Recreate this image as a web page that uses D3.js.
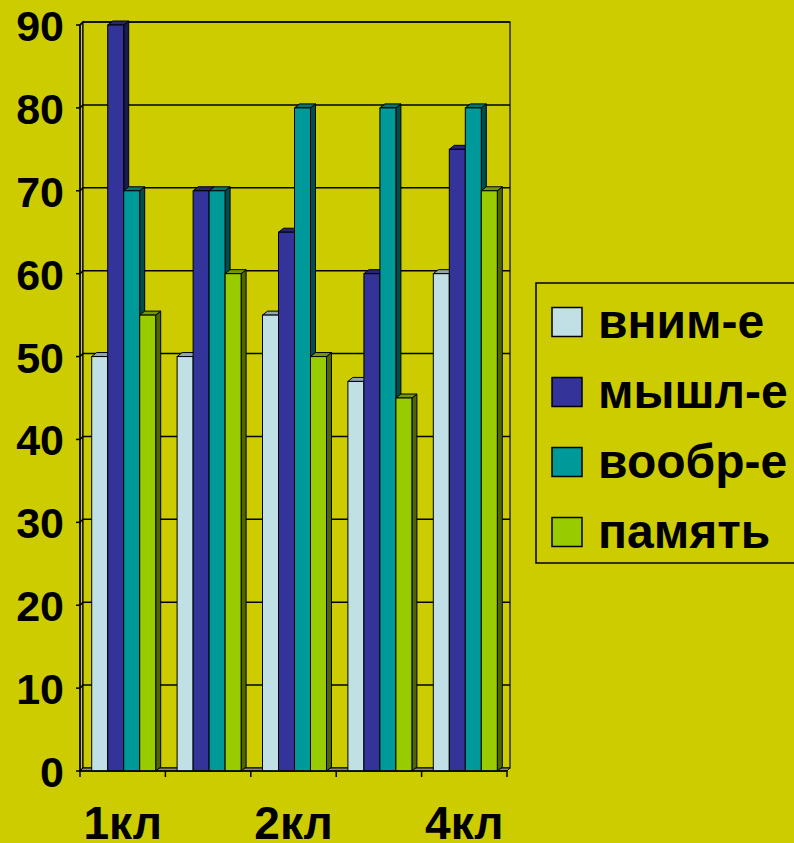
<!DOCTYPE html>
<html><head><meta charset="utf-8">
<script src="https://cdn.jsdelivr.net/npm/d3@7"></script>
<style>html,body{margin:0;padding:0;background:#CCCC00;} svg{display:block}</style>
</head><body><svg id="c" width="794" height="843"></svg>
<script>
const categories = ["1кл", "1кл", "2кл", "3кл", "4кл"];
const shownLabelEvery = 2;
const seriesNames = ["вним-е", "мышл-е", "вообр-е", "память"];
const vnimanie = [50, 50, 55, 47, 60];
const myshlenie = [90, 70, 65, 60, 75];
const voobrazhenie = [70, 70, 80, 80, 80];
const pamyat = [55, 60, 50, 45, 70];
const yTicks = [0, 10, 20, 30, 40, 50, 60, 70, 80, 90];
const colors = ["#C0E0E6", "#333399", "#009999", "#99CC00"];
const series = [vnimanie, myshlenie, voobrazhenie, pamyat];

const bg = "#CCCC00";
const font = "'Liberation Sans', Arial, sans-serif";
const svg = d3.select("#c");

const x = d3.scaleBand().domain(d3.range(categories.length)).range([80, 507]);
const y = d3.scaleLinear().domain([0, 90]).range([771, 25]);
const wdx = 3, wdy = -3;   // wall depth
const bdx = 5, bdy = -4;   // bar depth
const barW = 16;
const pad = (x.bandwidth() - barW * series.length) / 2 + 1;

function shade(c, k) { const o = d3.rgb(c); return d3.rgb(o.r * k, o.g * k, o.b * k).toString(); }

const x0 = x.range()[0], x1 = x.range()[1];
const yTop = y(90), yBot = y(0);

// left wall
svg.append("polygon")
  .attr("points", [[x0, yTop], [x0 + wdx, yTop + wdy], [x0 + wdx, yBot + wdy], [x0, yBot]].map(p => p.join(",")).join(" "))
  .attr("fill", bg).attr("stroke", "#000").attr("stroke-width", 1.2);
// back wall
svg.append("rect")
  .attr("x", x0 + wdx).attr("y", yTop + wdy)
  .attr("width", x1 - x0).attr("height", yBot - yTop)
  .attr("fill", bg).attr("stroke", "#000").attr("stroke-width", 1.2);

// gridlines
yTicks.filter(v => v > 0).forEach(v => {
  const yy = y(v);
  svg.append("polyline")
    .attr("points", [[x0, yy], [x0 + wdx, yy + wdy], [x1 + wdx, yy + wdy]].map(p => p.join(",")).join(" "))
    .attr("fill", "none").attr("stroke", "#000").attr("stroke-width", 1.5);
});

// floor
svg.append("polygon")
  .attr("points", [[x0, yBot], [x1, yBot], [x1 + wdx, yBot + wdy], [x0 + wdx, yBot + wdy]].map(p => p.join(",")).join(" "))
  .attr("fill", "#8A8A8A").attr("stroke", "#000").attr("stroke-width", 1);

// bars
categories.forEach((c, i) => {
  series.forEach((vals, s) => {
    const v = vals[i];
    const bx = x(i) + pad + s * barW;
    const by = y(v);
    const g = svg.append("g");
    g.append("polygon")
      .attr("points", [[bx + barW, by], [bx + barW + bdx, by + bdy], [bx + barW + bdx, yBot + bdy], [bx + barW, yBot]].map(p => p.join(",")).join(" "))
      .attr("fill", shade(colors[s], 0.5)).attr("stroke", "#000").attr("stroke-width", 1);
    g.append("polygon")
      .attr("points", [[bx, by], [bx + bdx, by + bdy], [bx + barW + bdx, by + bdy], [bx + barW, by]].map(p => p.join(",")).join(" "))
      .attr("fill", shade(colors[s], 0.75)).attr("stroke", "#000").attr("stroke-width", 1);
    g.append("rect")
      .attr("x", bx).attr("y", by).attr("width", barW).attr("height", yBot - by)
      .attr("fill", colors[s]).attr("stroke", "#000").attr("stroke-width", 1);
  });
});

// y axis
svg.append("line").attr("x1", x0).attr("x2", x0).attr("y1", yTop).attr("y2", yBot)
  .attr("stroke", "#000").attr("stroke-width", 1.5);
yTicks.forEach(v => {
  svg.append("line").attr("x1", x0 - 4).attr("x2", x0).attr("y1", y(v)).attr("y2", y(v))
    .attr("stroke", "#000").attr("stroke-width", 1.5);
  svg.append("text").attr("x", 64).attr("y", y(v) + 16)
    .attr("text-anchor", "end").attr("font-family", font).attr("font-weight", "bold")
    .attr("font-size", 43).attr("fill", "#000").text(v);
});

// x axis
svg.append("line").attr("x1", x0).attr("x2", x1).attr("y1", yBot).attr("y2", yBot)
  .attr("stroke", "#000").attr("stroke-width", 1.5);
d3.range(categories.length + 1).forEach(i => {
  const xx = i < categories.length ? x(i) : x1;
  svg.append("line").attr("x1", xx).attr("x2", xx).attr("y1", yBot).attr("y2", yBot + 6)
    .attr("stroke", "#000").attr("stroke-width", 1.5);
});
categories.forEach((c, i) => {
  if (i % shownLabelEvery !== 0) return;
  svg.append("text").attr("x", x(i) + x.bandwidth() / 2).attr("y", 839)
    .attr("text-anchor", "middle").attr("font-family", font).attr("font-weight", "bold")
    .attr("font-size", 46).attr("fill", "#000").text(c);
});

// legend
svg.append("rect").attr("x", 536).attr("y", 283).attr("width", 262).attr("height", 280)
  .attr("fill", bg).attr("stroke", "#000").attr("stroke-width", 1.5);
seriesNames.forEach((n, s) => {
  const cy = 322 + s * 70;
  svg.append("rect").attr("x", 552).attr("y", cy - 14.5).attr("width", 30).attr("height", 29)
    .attr("fill", colors[s]).attr("stroke", "#000").attr("stroke-width", 1.5);
  svg.append("text").attr("x", 598).attr("y", cy + 16)
    .attr("font-family", font).attr("font-weight", "bold").attr("font-size", 48)
    .attr("fill", "#000").text(n);
});
</script></body></html>
